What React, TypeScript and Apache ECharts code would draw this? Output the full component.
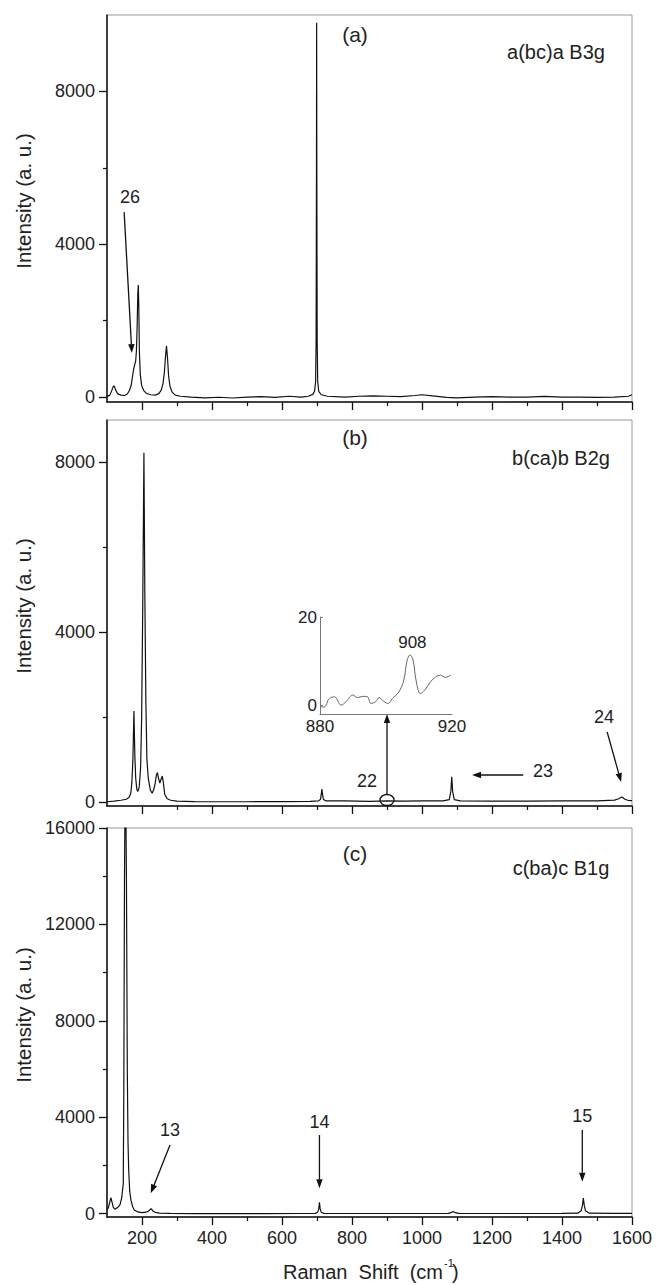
import React, { useEffect, useRef } from "react";
import * as echarts from "echarts";

// ---------------- data ----------------
const xMajorTicks = [200, 400, 600, 800, 1000, 1200, 1400, 1600];
const xMinorTicks = [300, 500, 700, 900, 1100, 1300, 1500];
const yMajorA = [0, 4000, 8000];
const yMinorA = [2000, 6000];
const yMajorB = [0, 4000, 8000];
const yMinorB = [2000, 6000];
const yMajorC = [0, 4000, 8000, 12000, 16000];
const yMinorC = [2000, 6000, 10000, 14000];
const yRanges = [
  [-130, 10000],
  [-100, 9000],
  [-140, 16000],
];
const insetXTicks = [880, 920];
const insetYTicks = [0, 20];

const spectrumA: [number, number][] = [
  [100, 10], [108, 50], [114, 180], [118, 280], [121, 290], [124, 200], [130, 90], [140, 50],
  [150, 40], [158, 80], [164, 170], [169, 300], [173, 550], [176, 720], [179, 840], [182, 950],
  [184, 1200], [186, 1800], [188, 2700], [189.5, 2930], [191, 2300], [192.5, 1200], [195, 600],
  [199, 300], [205, 170], [212, 100], [225, 60], [238, 50], [248, 90], [255, 180], [260, 350],
  [264, 650], [267, 1050], [270, 1340], [273, 1000], [276, 550], [280, 280], [286, 130], [295, 50],
  [310, 20], [340, 0], [380, -20], [420, -5], [460, -25], [500, 0], [540, 10], [580, -10], [620, 20],
  [655, 0], [675, 20], [688, 70], [693, 150], [696, 400], [697.5, 1500], [698.5, 6000], [699, 9800],
  [699.5, 6000], [700.5, 1500], [702, 400], [705, 150], [712, 60], [730, 20], [780, 0], [820, 20],
  [860, 30], [900, 20], [940, 10], [980, 40], [1000, 60], [1030, 30], [1070, -10], [1100, -20],
  [1150, 0], [1200, 10], [1250, -5], [1300, 0], [1350, 15], [1400, 0], [1450, -5], [1500, -10],
  [1550, 0], [1590, 20], [1600, 60],
];

const spectrumB: [number, number][] = [
  [100, 0], [120, 15], [140, 35], [155, 60], [163, 100], [168, 200], [171, 450], [174, 1000],
  [177, 2140], [179.5, 1100], [182, 560], [185, 300], [188, 240], [192, 350], [196, 800],
  [199, 2000], [202, 4500], [205.5, 8230], [208, 5000], [211, 2400], [214, 1000], [218, 550],
  [224, 270], [229, 200], [234, 300], [238, 450], [241, 620], [244, 690], [247, 560], [251, 440],
  [254, 520], [258, 607], [261, 450], [265, 170], [272, 70], [282, 35], [300, 15], [350, 5],
  [400, 0], [500, 0], [600, 5], [680, 10], [705, 20], [710, 60], [712.5, 190], [714, 300],
  [715.5, 190], [718, 60], [725, 20], [780, 20], [850, 10], [900, 20], [950, 15], [1000, 20],
  [1060, 20], [1078, 50], [1082.5, 250], [1085, 590], [1087.5, 250], [1092, 50], [1110, 20],
  [1200, 15], [1300, 15], [1400, 20], [1500, 20], [1550, 40], [1562, 70], [1571, 110], [1580, 60],
  [1590, 30], [1600, 25],
];

const spectrumC: [number, number][] = [
  [100, 150], [104, 250], [108, 480], [111, 660], [114, 500], [118, 260], [123, 180], [130, 250],
  [137, 360], [142, 650], [146.5, 1250], [148, 5000], [150, 14000], [152.5, 19000], [155.5, 14000],
  [158, 6000], [160, 3000], [162, 1800], [165, 900], [168.5, 560], [173, 300], [178, 150],
  [188, 70], [200, 40], [212, 60], [219, 110], [224, 190], [227, 200], [231, 110], [238, 50],
  [250, 20], [280, 10], [350, 0], [450, 0], [550, 0], [650, 5], [695, 10], [702, 60], [705, 200],
  [707, 470], [709, 200], [712, 60], [720, 10], [800, 5], [900, 5], [1000, 5], [1075, 10],
  [1083, 40], [1089, 90], [1095, 40], [1105, 10], [1200, 5], [1300, 5], [1400, 10], [1445, 20],
  [1455, 120], [1458.5, 350], [1461, 650], [1463.5, 350], [1467, 120], [1478, 20], [1550, 10],
  [1600, 10],
];

const insetB: [number, number][] = [
  [880, -0.4], [881.3, -0.4], [882.8, 1.5], [884.4, 1.9], [886.4, 0], [887.9, 0.8], [889.9, 2.3],
  [891.4, 1.7], [892.9, 2.0], [894.4, 1.9], [895.4, 0.4], [896.9, 0.8], [897.9, 1.7], [899.4, 0.8],
  [900.7, 0.4], [901.9, 1.5], [903.9, 3.0], [905.4, 5.7], [906.4, 10.2], [907.3, 11.4],
  [908.2, 10.2], [909.1, 5.7], [910.4, 2.6], [911.7, 3.4], [913.5, 5.3], [915.0, 6.4],
  [916.5, 6.8], [918.0, 6.3], [919.6, 6.8],
];

const panelTags = ["(a)", "(b)", "(c)"];
const panelConfigs = ["a(bc)a B3g", "b(ca)b B2g", "c(ba)c B1g"];

// annotations in data coordinates
const annotationTexts: { panel: number; text: string; at: [number, number] }[] = [
  { panel: 0, text: "26", at: [166, 5240] },
  { panel: 1, text: "22", at: [843, 480] },
  { panel: 1, text: "23", at: [1346, 726] },
  { panel: 1, text: "24", at: [1520, 2000] },
  { panel: 2, text: "13", at: [280, 3470] },
  { panel: 2, text: "14", at: [707, 3810] },
  { panel: 2, text: "15", at: [1458, 4050] },
];
const annotationArrows: { panel: number; from: [number, number]; to: [number, number] }[] = [
  { panel: 0, from: [149, 4840], to: [171, 1150] },
  { panel: 1, from: [900, 180], to: [900, 2070] },
  { panel: 1, from: [1289, 631], to: [1143, 631] },
  { panel: 1, from: [1529, 1645], to: [1569, 466] },
  { panel: 2, from: [280, 2846], to: [225, 842] },
  { panel: 2, from: [707, 3260], to: [707, 1050] },
  { panel: 2, from: [1458, 3470], to: [1458, 1320] },
];
const circledPoint: { panel: number; at: [number, number] } = { panel: 1, at: [900, 41] };
const insetPeakLabel: { text: string; at: [number, number] } = { text: "908", at: [908, 14.2] };

// ---------------- layout ----------------
const FONT = "'Liberation Sans', Arial, Helvetica, sans-serif";
const INK = "#111";
const TXT = "#222";
const gridRects = [
  { left: 107, top: 15, width: 525, height: 387 },
  { left: 107, top: 420, width: 525, height: 386 },
  { left: 107, top: 828, width: 525, height: 389 },
];
const insetRect = { left: 320, top: 617, width: 132, height: 97 };
const tagPos = [[355, 34], [355, 437], [355, 853]];
const configPos = [[556, 52], [561, 458], [561, 868]];
const yTitleY = [201, 606, 1015];

const plain = (v: number) => String(v);

function buildOption(): any {
  const yMajor = [yMajorA, yMajorB, yMajorC];
  const yMinor = [yMinorA, yMinorB, yMinorC];
  const spectra = [spectrumA, spectrumB, spectrumC];
  const grid: any[] = [];
  const xAxis: any[] = [];
  const yAxis: any[] = [];
  gridRects.forEach((r) => {
    grid.push({ ...r, show: true, borderColor: "#9a9a9a", borderWidth: 1, backgroundColor: "transparent" });
  });
  gridRects.forEach((r) => {
    grid.push({ ...r, show: false });
  });
  grid.push({ ...insetRect, show: false });

  for (let i = 0; i < 3; i++) {
    xAxis.push({
      type: "value", gridIndex: i, min: 100, max: 1600, position: "bottom",
      axisLine: { show: true, onZero: false, lineStyle: { color: INK, width: 1.5 } },
      axisTick: { show: true, length: 8, customValues: xMajorTicks, lineStyle: { color: INK, width: 1.3 } },
      axisLabel: {
        show: i === 2, customValues: xMajorTicks, formatter: plain, margin: 12,
        fontSize: 18, color: TXT, fontFamily: FONT,
      },
      splitLine: { show: false },
    });
    yAxis.push({
      type: "value", gridIndex: i, min: yRanges[i][0], max: yRanges[i][1], position: "left",
      axisLine: { show: true, onZero: false, lineStyle: { color: INK, width: 1.5 } },
      axisTick: { show: true, length: 8, customValues: yMajor[i], lineStyle: { color: INK, width: 1.3 } },
      axisLabel: {
        show: true, customValues: yMajor[i], formatter: plain, margin: 12,
        fontSize: 18, color: TXT, fontFamily: FONT,
      },
      splitLine: { show: false },
    });
  }
  for (let i = 0; i < 3; i++) {
    xAxis.push({
      type: "value", gridIndex: 3 + i, min: 100, max: 1600, position: "bottom",
      axisLine: { show: false, onZero: false },
      axisTick: { show: true, length: 4, customValues: xMinorTicks, lineStyle: { color: INK, width: 1.2 } },
      axisLabel: { show: false },
      splitLine: { show: false },
    });
    yAxis.push({
      type: "value", gridIndex: 3 + i, min: yRanges[i][0], max: yRanges[i][1], position: "left",
      axisLine: { show: false, onZero: false },
      axisTick: { show: true, length: 4, customValues: yMinor[i], lineStyle: { color: INK, width: 1.2 } },
      axisLabel: { show: false },
      splitLine: { show: false },
    });
  }
  xAxis.push({
    type: "value", gridIndex: 6, min: 880, max: 920, position: "bottom",
    axisLine: { show: true, onZero: false, lineStyle: { color: "#777", width: 1 } },
    axisTick: { show: false },
    axisLabel: {
      show: true, customValues: insetXTicks, formatter: plain, margin: 4,
      fontSize: 17, color: TXT, fontFamily: FONT,
    },
    splitLine: { show: false },
  });
  yAxis.push({
    type: "value", gridIndex: 6, min: -2, max: 20, position: "left",
    axisLine: { show: true, onZero: false, lineStyle: { color: "#777", width: 1 } },
    axisTick: { show: true, inside: true, length: 3, customValues: insetYTicks, lineStyle: { color: "#777" } },
    axisLabel: {
      show: true, customValues: insetYTicks, formatter: plain, margin: 3,
      fontSize: 17, color: TXT, fontFamily: FONT,
    },
    splitLine: { show: false },
  });

  const series: any[] = spectra.map((d, i) => ({
    type: "line", xAxisIndex: i, yAxisIndex: i, data: d, showSymbol: false, symbol: "none",
    clip: true, silent: true, lineStyle: { color: INK, width: 1.2 },
  }));
  series.push({
    type: "line", xAxisIndex: 6, yAxisIndex: 6, data: insetB, showSymbol: false, symbol: "none",
    smooth: 0.35, clip: true, silent: true, lineStyle: { color: "#666", width: 1 },
  });

  return {
    animation: false,
    backgroundColor: "#fff",
    textStyle: { fontFamily: FONT },
    grid, xAxis, yAxis, series,
  };
}

function textEl(text: string, x: number, y: number, size: number, extra: any = {}) {
  const align = extra.align || "center";
  const { align: _a, ...rest } = extra;
  return {
    type: "text", x, y, silent: true, ...rest,
    style: {
      text, fontSize: size, fontFamily: FONT, fill: TXT,
      textAlign: align, textVerticalAlign: "middle",
      align, verticalAlign: "middle",
    },
  };
}

function arrowEls(p1: number[], p2: number[], head = 9, halfW = 3.2) {
  const dx = p2[0] - p1[0];
  const dy = p2[1] - p1[1];
  const len = Math.hypot(dx, dy) || 1;
  const ux = dx / len;
  const uy = dy / len;
  const bx = p2[0] - ux * head;
  const by = p2[1] - uy * head;
  const nx = -uy;
  const ny = ux;
  return [
    { type: "line", silent: true, shape: { x1: p1[0], y1: p1[1], x2: bx, y2: by }, style: { stroke: INK, lineWidth: 1.3 } },
    {
      type: "polygon", silent: true,
      shape: { points: [[p2[0], p2[1]], [bx + nx * halfW, by + ny * halfW], [bx - nx * halfW, by - ny * halfW]] },
      style: { fill: INK },
    },
  ];
}

export default function App() {
  const ref = useRef<HTMLDivElement>(null);
  useEffect(() => {
    const el = ref.current!;
    const chart = echarts.init(el, null, { renderer: "svg" });
    chart.setOption(buildOption());
    const toPx = (panel: number, p: number[]) => chart.convertToPixel({ seriesIndex: panel }, p) as number[];

    const elements: any[] = [];
    yTitleY.forEach((y) => {
      elements.push(textEl("Intensity (a. u.)", 23, y, 20.5, { rotation: Math.PI / 2 }));
    });
    elements.push(textEl("Raman  Shift  (cm", 443, 1272, 20, { align: "right" }));
    elements.push(textEl("-1", 444, 1263, 11, { align: "left" }));
    elements.push(textEl(")", 452, 1272, 20, { align: "left" }));
    panelTags.forEach((t, i) => elements.push(textEl(t, tagPos[i][0], tagPos[i][1], 21)));
    panelConfigs.forEach((t, i) => elements.push(textEl(t, configPos[i][0], configPos[i][1], 20)));
    annotationTexts.forEach((a) => {
      const p = toPx(a.panel, a.at);
      elements.push(textEl(a.text, p[0], p[1], 18));
    });
    annotationArrows.forEach((a) => {
      elements.push(...arrowEls(toPx(a.panel, a.from), toPx(a.panel, a.to)));
    });
    const c = toPx(circledPoint.panel, circledPoint.at);
    elements.push({
      type: "ellipse", silent: true, shape: { cx: c[0], cy: c[1], rx: 7, ry: 5.5 },
      style: { stroke: INK, lineWidth: 1.3, fill: "none" },
    });
    const ip = chart.convertToPixel({ seriesIndex: 3 }, insetPeakLabel.at) as number[];
    elements.push(textEl(insetPeakLabel.text, ip[0], ip[1], 17));

    chart.setOption({ graphic: { elements } });
    return () => chart.dispose();
  }, []);
  return (
    <div
      ref={ref}
      style={{ position: "fixed", left: 0, top: 0, width: 657, height: 1285, background: "#fff" }}
    />
  );
}
